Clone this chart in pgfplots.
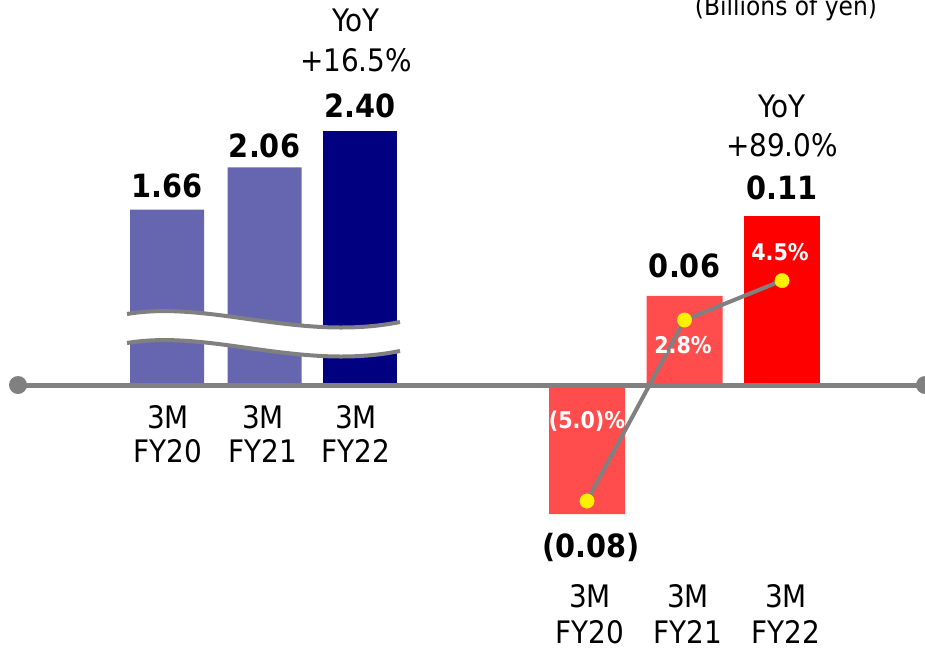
\documentclass[border=0pt]{standalone}
\usepackage{pgfplots}
\pgfplotsset{compat=1.18}
\usepackage{fontspec}
\setmainfont{DejaVu Sans}[FakeStretch=0.9]
\definecolor{lightbar}{RGB}{102,102,176}
\definecolor{navybar}{RGB}{0,0,128}
\definecolor{lightred}{RGB}{255,77,77}
\definecolor{redbar}{RGB}{255,0,0}
\definecolor{linegray}{RGB}{128,128,128}
\definecolor{dotyellow}{RGB}{255,240,0}
\begin{document}
\begin{tikzpicture}
\pgfplotsset{base/.style={scale only axis, width=462.5pt, height=324pt, at={(0,0)}, anchor=south west, xmin=0, xmax=925, hide axis, clip=false}}
% left group (billions of yen)
\begin{axis}[base, ymin=-2.4882, ymax=3.6424]
\addplot[ybar, bar width=37pt, bar shift=0pt, fill=lightbar, draw=none] coordinates {(167,1.66) (264.5,2.06)};
\addplot[ybar, bar width=37pt, bar shift=0pt, fill=navybar, draw=none] coordinates {(360,2.40)};
\end{axis}
% right group (billions of yen)
\begin{axis}[base, ymin=-0.17122, ymax=0.25065]
\addplot[ybar, bar width=38pt, bar shift=0pt, fill=lightred, draw=none] coordinates {(587,-0.084) (684.5,0.058)};
\addplot[ybar, bar width=38pt, bar shift=0pt, fill=redbar, draw=none] coordinates {(782,0.110)};
\end{axis}
% decorations in pixel coordinates
\begin{axis}[base, ymin=0, ymax=648, y dir=reverse]
\fill[white] (axis cs:127,314) .. controls (axis cs:210,300) and (axis cs:300,342) .. (axis cs:400,322)
  -- (axis cs:400,351) .. controls (axis cs:300,371) and (axis cs:210,329) .. (axis cs:127,343) -- cycle;
\draw[linegray, line width=2pt] (axis cs:127,314) .. controls (axis cs:210,300) and (axis cs:300,342) .. (axis cs:400,322);
\draw[linegray, line width=2pt] (axis cs:127,343) .. controls (axis cs:210,329) and (axis cs:300,371) .. (axis cs:400,351);
\draw[linegray, line width=2.5pt] (axis cs:18,385) -- (axis cs:925,385);
\fill[linegray] (axis cs:18,385) circle[radius=4.5pt];
\fill[linegray] (axis cs:925,385) circle[radius=4.5pt];
\end{axis}
% margin line (%)
\begin{axis}[base, ymin=-11.336, ymax=16.595]
\addplot[linegray, line width=2pt, mark=*, mark size=3.6pt, mark options={fill=dotyellow, draw=dotyellow, line width=0.2pt}] coordinates {(587,-5.0) (684.5,2.8) (782,4.5)};
\end{axis}
% labels
\begin{axis}[base, ymin=0, ymax=648, y dir=reverse]
\begin{scope}[every node/.style={anchor=base, inner sep=0pt, font=\fontsize{15.5}{18}\selectfont}]
\node at (axis cs:356,32) {YoY};
\node at (axis cs:356,71) {+16.5\%};
\node at (axis cs:782,117) {YoY};
\node at (axis cs:782,156) {+89.0\%};
\node at (axis cs:168,428) {3M};
\node at (axis cs:168,462) {FY20};
\node at (axis cs:263,428) {3M};
\node at (axis cs:263,462) {FY21};
\node at (axis cs:356,428) {3M};
\node at (axis cs:356,462) {FY22};
\node at (axis cs:590,607) {3M};
\node at (axis cs:590,643) {FY20};
\node at (axis cs:688,607) {3M};
\node at (axis cs:688,643) {FY21};
\node at (axis cs:786,607) {3M};
\node at (axis cs:786,643) {FY22};
\end{scope}
\begin{scope}[every node/.style={anchor=base, inner sep=0pt, font=\fontsize{16}{19}\selectfont\bfseries}]
\node at (axis cs:167,197) {1.66};
\node at (axis cs:264.5,157) {2.06};
\node at (axis cs:360,117) {2.40};
\node at (axis cs:684.5,277) {0.06};
\node at (axis cs:782,199) {0.11};
\node at (axis cs:591,557) {(0.08)};
\end{scope}
\begin{scope}[every node/.style={anchor=base, inner sep=0pt, text=white, font=\fontsize{11.5}{14}\selectfont\bfseries}]
\node at (axis cs:780,260) {4.5\%};
\node at (axis cs:683,353) {2.8\%};
\node at (axis cs:587,428) {(5.0)\%};
\end{scope}
\node[anchor=base, inner sep=0pt, font=\fontsize{13}{15}\selectfont] at (axis cs:786,15) {(Billions of yen)};
\end{axis}
\pgfresetboundingbox
\useasboundingbox (0,0) rectangle (462.5pt,324pt);
\end{tikzpicture}
\end{document}
